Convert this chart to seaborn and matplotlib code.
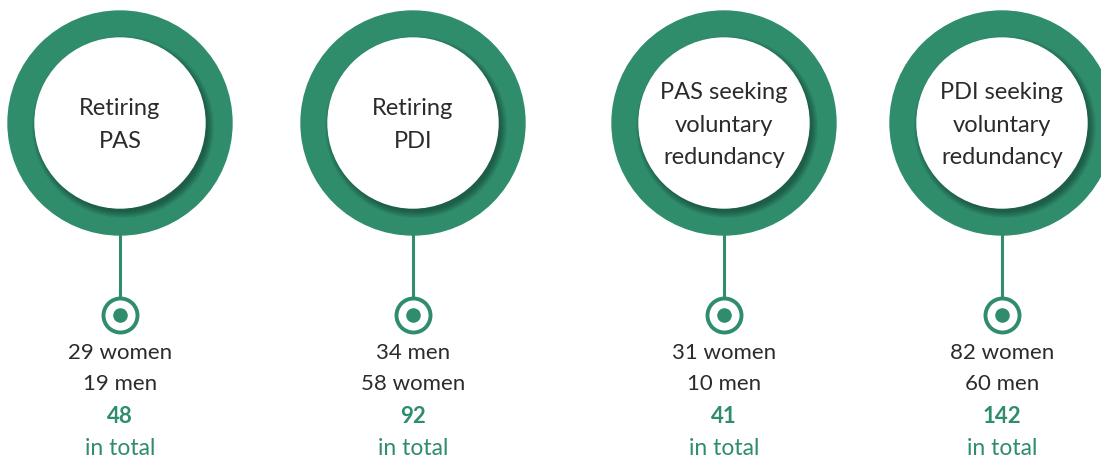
import numpy as np
import pandas as pd
import matplotlib
matplotlib.use("Agg")
import matplotlib.pyplot as plt
import seaborn as sns
from matplotlib.patches import Circle

# data
groups = ["Retiring\nPAS", "Retiring\nPDI", "PAS seeking\nvoluntary\nredundancy", "PDI seeking\nvoluntary\nredundancy"]
first_label = ["women", "men", "women", "women"]
first_count = [29, 34, 31, 82]
second_label = ["men", "women", "men", "men"]
second_count = [19, 58, 10, 60]
totals = [48, 92, 41, 142]

# layout (pixels)
centers_x = [120, 413, 724, 1002]
ring_y = 123
r_outer = 112
r_inner = 85
dot_y = 315

green = "#2f8d6c"
dark = "#2b2b2b"

sns.set_theme(style="white")
plt.rcParams['font.family'] = ['Lato', 'DejaVu Sans']

fig = plt.figure(figsize=(11.01, 4.61), dpi=100)
ax = fig.add_axes([0, 0, 1, 1])
ax.set_xlim(0, 1101)
ax.set_ylim(461, 0)
ax.set_aspect("equal")
ax.axis("off")

df = pd.DataFrame({"x": centers_x, "y": [dot_y] * 4, "total": totals})

for i, cx in enumerate(centers_x):
    # connector line
    ax.plot([cx, cx], [ring_y + r_outer - 5, dot_y], color=green, lw=2.2, zorder=1)
    ax.add_patch(Circle((cx, ring_y), r_outer, color=green, zorder=2))
    # soft shadow of white disc onto the ring
    for k in range(7):
        ax.add_patch(Circle((cx + 3, ring_y + 4), r_inner + 6 - k, color="black",
                            alpha=0.05, lw=0, zorder=3))
    ax.add_patch(Circle((cx, ring_y), r_inner, color="white", zorder=4))
    ax.text(cx, ring_y + 2, groups[i], ha="center", va="center", fontsize=17,
            color=dark, linespacing=1.65, zorder=5)

    ax.text(cx, 353, f"{first_count[i]} {first_label[i]}", ha="center", va="center",
            fontsize=16, color=dark)
    ax.text(cx, 384, f"{second_count[i]} {second_label[i]}", ha="center", va="center",
            fontsize=16, color=dark)
    ax.text(cx, 416, str(totals[i]), ha="center", va="center", fontsize=16,
            color=green, fontweight="bold")
    ax.text(cx, 448, "in total", ha="center", va="center", fontsize=16.5, color=green)

# target markers
sns.scatterplot(data=df, x="x", y="y", ax=ax, s=600, facecolor="white",
                edgecolor=green, linewidth=2.8, zorder=6, legend=False)
sns.scatterplot(data=df, x="x", y="y", ax=ax, s=110, color=green,
                linewidth=0, zorder=7, legend=False)

fig.savefig("out.png", dpi=100)
